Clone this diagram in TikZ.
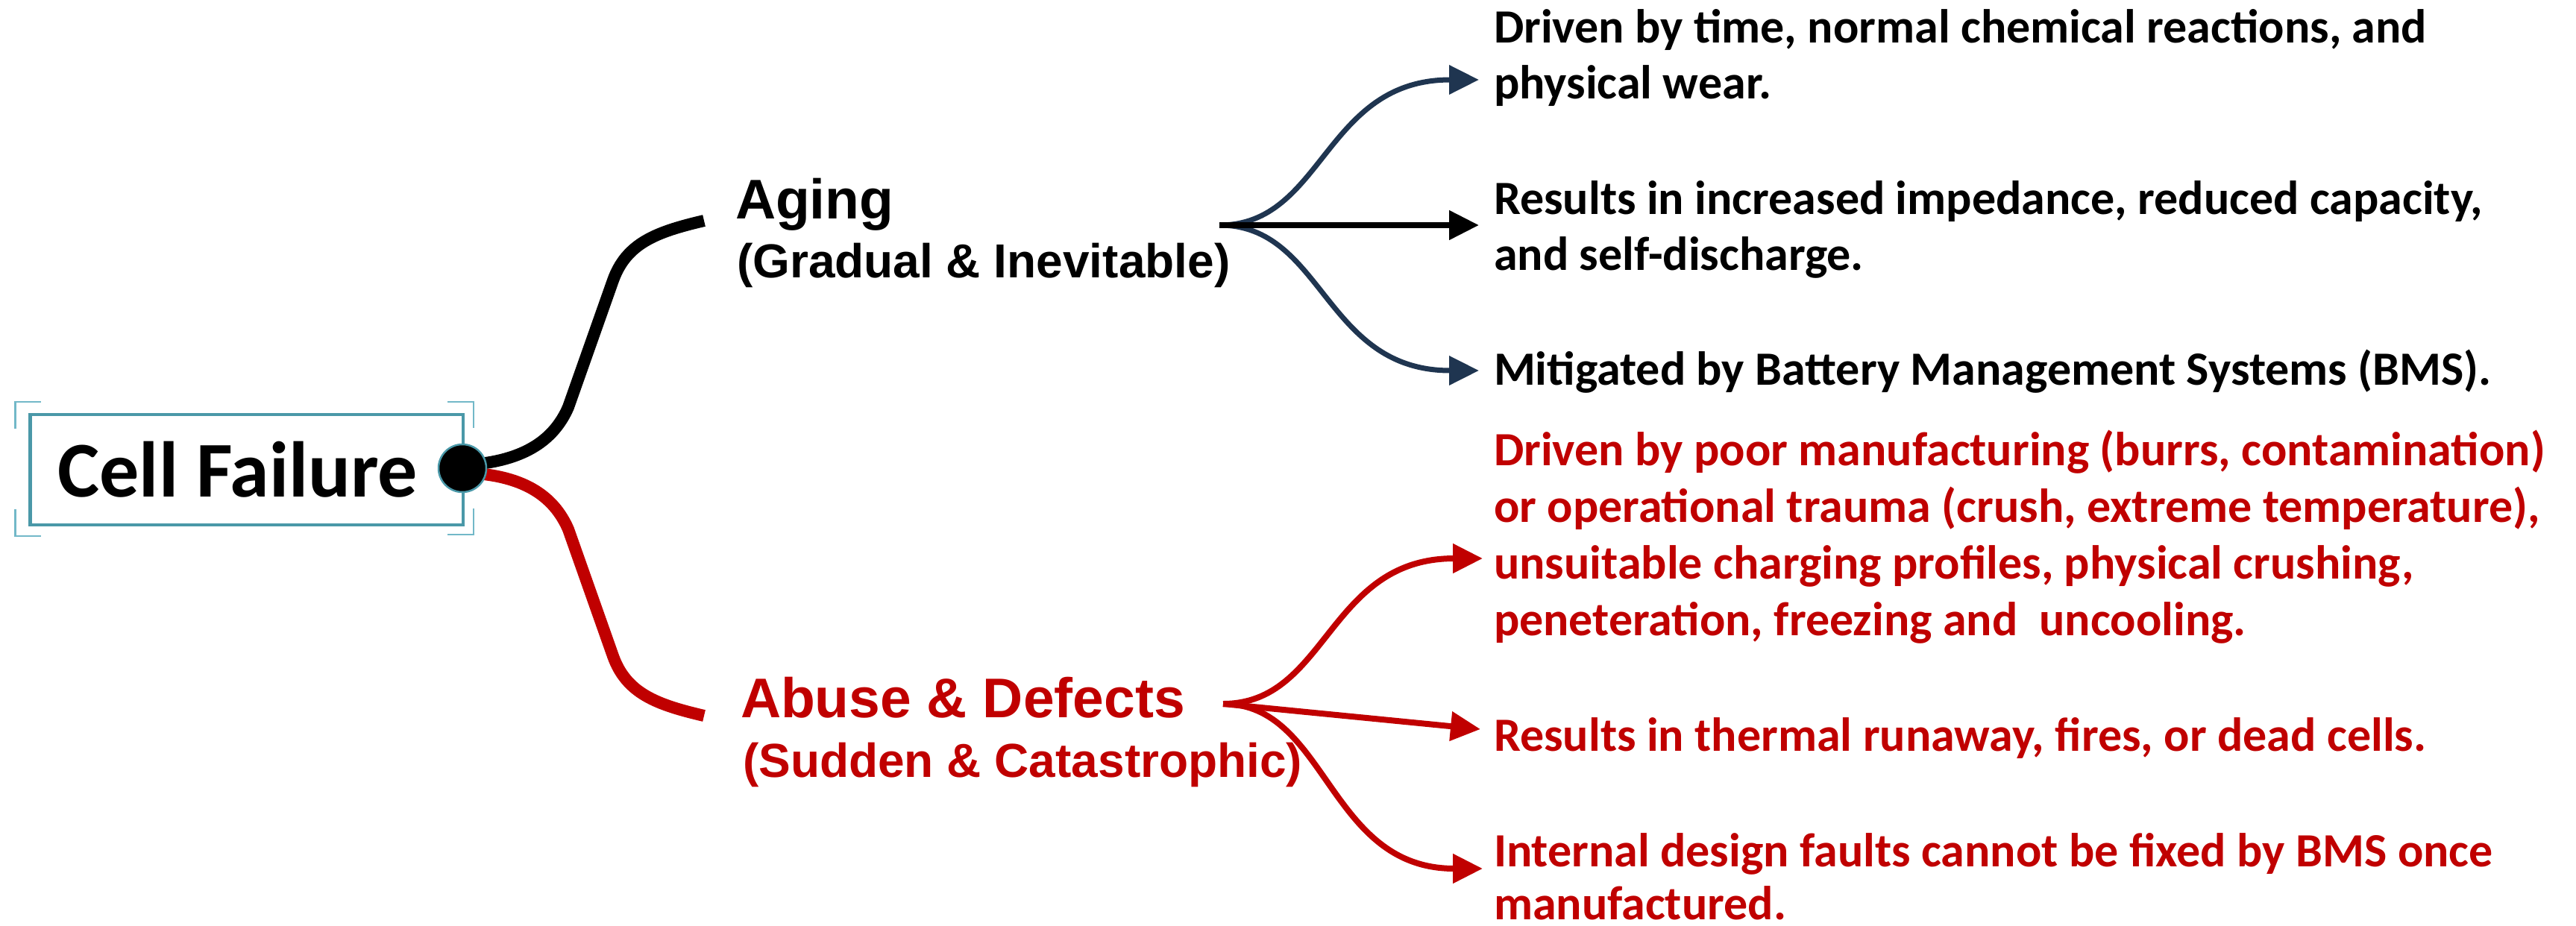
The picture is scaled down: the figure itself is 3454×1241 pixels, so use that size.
\documentclass[tikz,border=0pt]{standalone}
\usepackage{fontspec}
\usetikzlibrary{arrows.meta,calc,backgrounds}
\newfontfamily\carl{Carlito}
\newfontfamily\arl{Liberation Sans}
\definecolor{tealA}{HTML}{4A98A8}
\definecolor{tealB}{HTML}{72B8C8}
\definecolor{navyC}{HTML}{1F3550}
\definecolor{redC}{HTML}{C00000}
\begin{document}
\begin{tikzpicture}[x=1bp,y=-1bp,
  desc/.style={anchor=base west, inner sep=0pt, outer sep=0pt},
  descfont/.style={font=\carl\bfseries\fontsize{64bp}{#1}\selectfont},
  cat/.style={anchor=base west, inner sep=0pt, outer sep=0pt, font=\arl\bfseries\fontsize{75bp}{80bp}\selectfont},
  catsub/.style={anchor=base west, inner sep=0pt, outer sep=0pt, font=\arl\bfseries\fontsize{64bp}{70bp}\selectfont},
  branch/.style={line width=16bp, line cap=butt},
  tip/.style={-{Triangle[length=40bp,width=38bp]}},
  bracket/.style={draw=tealB, line width=2.5bp}]
\path[use as bounding box] (0,0) rectangle (3454,1241);

% root
\node[draw=tealA, line width=4.5bp, minimum width=580bp, minimum height=148bp,
      inner sep=0pt, outer sep=0pt, font=\carl\bfseries\fontsize{106bp}{120bp}\selectfont]
      (cf) at (330.75,629.75) {Cell Failure\hspace*{24bp}};
\draw[bracket] ($(cf.north west)+(-20,19)$) -- ($(cf.north west)+(-20,-17)$) -- ($(cf.north west)+(14,-17)$);
\draw[bracket] ($(cf.south west)+(-20,-21)$) -- ($(cf.south west)+(-20,15)$) -- ($(cf.south west)+(14,15)$);
\draw[bracket] ($(cf.north east)+(-21,-17)$) -- ($(cf.north east)+(14,-17)$) -- ($(cf.north east)+(14,18)$);
\draw[bracket] ($(cf.south east)+(14,-22)$) -- ($(cf.south east)+(14,13)$) -- ($(cf.south east)+(-21,13)$);
\node[circle, fill=black, draw=tealA, line width=2.5bp, minimum size=64bp, inner sep=0pt] (dot) at (620,628) {};

% categories
\node[cat] (aging) at (986,293) {Aging};
\node[catsub] (agingsub) at (988,372) {(Gradual \& Inevitable)};
\node[cat, text=redC] (abuse) at (993,962) {Abuse \& Defects};
\node[catsub, text=redC] (abusesub) at (996,1042) {(Sudden \& Catastrophic)};

\coordinate (agin) at (944,296);
\coordinate (abin) at (944,960);
\coordinate (agfork) at (1635,302);
\coordinate (abfork) at (1640,944);

% descriptions
\node[desc, descfont=75bp] (d1) at (2003,57)
  {\vtop{\hbox{Driven by time, normal chemical reactions, and}\hbox{physical wear.}}};
\node[desc, descfont=75bp] (d2) at (2003,287)
  {\vtop{\hbox{Results in increased impedance, reduced capacity,}\hbox{and self-discharge.}}};
\node[desc, descfont=75bp] (d3) at (2003,516)
  {Mitigated by Battery Management Systems (BMS).};
\node[desc, descfont=76.3bp, text=redC] (r1) at (2003,624)
  {\vtop{\hbox{Driven by poor manufacturing (burrs, contamination)}\hbox{or operational trauma (crush, extreme temperature),}\hbox{unsuitable charging profiles, physical crushing,}\hbox{peneteration, freezing and\ \ uncooling.}}};
\node[desc, descfont=75bp, text=redC] (r2) at (2003,1007)
  {Results in thermal runaway, fires, or dead cells.};
\node[desc, descfont=71bp, text=redC] (r3) at (2003,1162)
  {\vtop{\hbox{Internal design faults cannot be fixed by BMS once}\hbox{manufactured.}}};

\coordinate (t1) at ($(d1.base west)+(-20,50)$);
\coordinate (t2) at ($(d2.base west)+(-20,15)$);
\coordinate (t3) at ($(d3.base west)+(-20,-19)$);
\coordinate (u1) at ($(r1.base west)+(-15,125)$);
\coordinate (u2) at ($(r2.base west)+(-18,-29)$);
\coordinate (u3) at ($(r3.base west)+(-15,3)$);

% main branches
\begin{scope}[on background layer]
\draw[branch, black] ([yshift=4bp]dot.center) .. controls (700,620) and (742,592) .. (762,546)
   -- (822,376) .. controls (840,326) and (880,311) .. (agin);
\draw[branch, redC] ([yshift=-6bp]dot.center) .. controls (700,636) and (742,664) .. (762,710)
   -- (822,880) .. controls (840,930) and (880,945) .. (abin);
\end{scope}

% aging arrows
\draw[tip, navyC, line width=7bp] (agfork) .. controls (1775,302) and (1775,107) .. (t1);
\draw[tip, navyC, line width=7bp] (agfork) .. controls (1775,302) and (1775,497) .. (t3);
\draw[tip, black, line width=8bp] (agfork) -- (t2);

% abuse arrows
\draw[tip, redC, line width=8bp] (abfork) .. controls (1780,944) and (1780,749) .. (u1);
\draw[tip, redC, line width=8bp] (abfork) -- (u2);
\draw[tip, redC, line width=8bp] (abfork) .. controls (1780,944) and (1780,1165) .. (u3);
\end{tikzpicture}
\end{document}
